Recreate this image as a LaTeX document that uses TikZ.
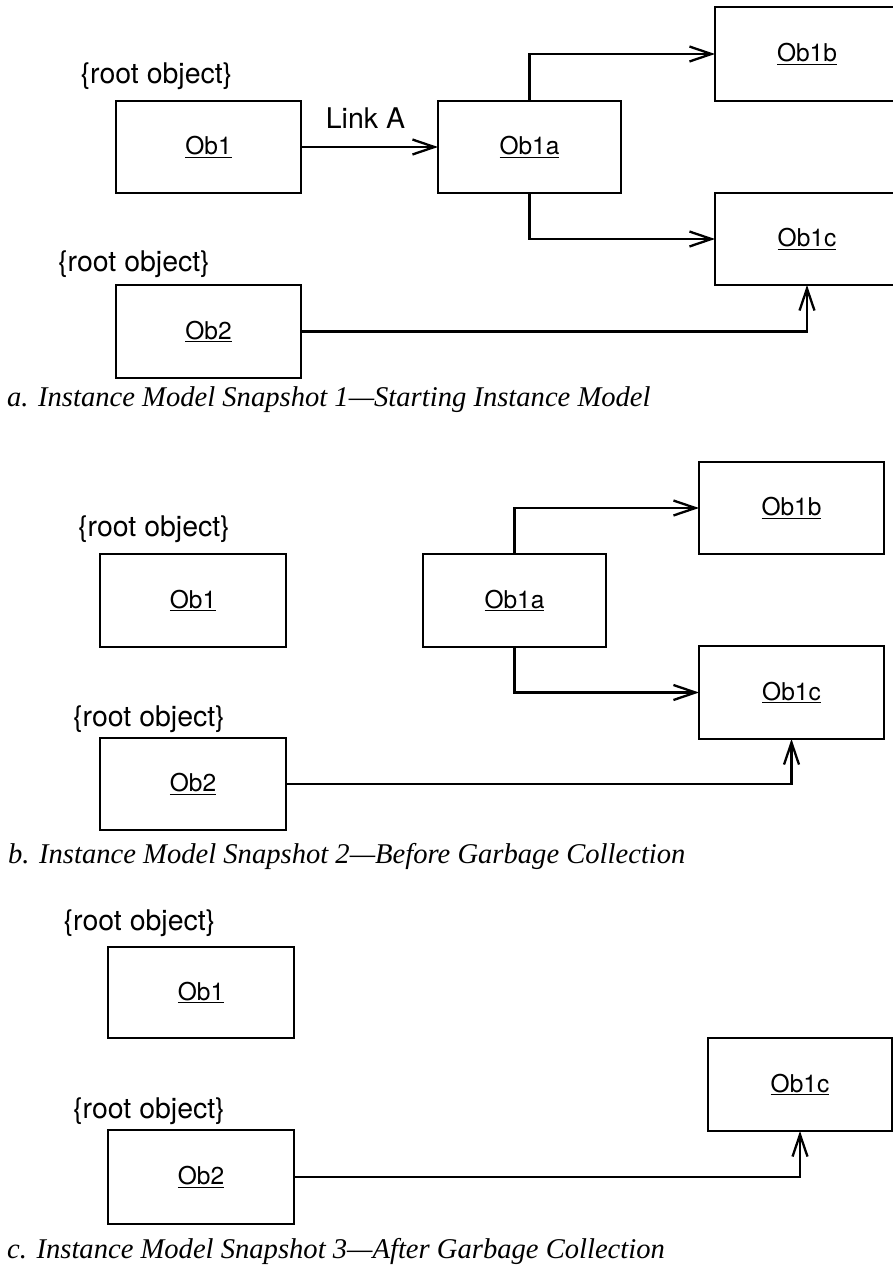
\documentclass[tikz,border=0pt]{standalone}
\usepackage{fontspec}
\setsansfont{TeX Gyre Heros}
\newfontfamily\captionserif[Ligatures=TeX]{Liberation Serif}
\usetikzlibrary{arrows.meta}

\tikzset{
  obj/.style={draw, line width=2.3pt, inner sep=0pt, outer sep=0pt,
    font=\sffamily\fontsize{24.5}{28}\selectfont},
  rootlbl/.style={inner sep=0pt, font=\sffamily\fontsize{28.5}{32}\selectfont},
  linklbl/.style={inner sep=0pt, font=\sffamily\fontsize{28.5}{32}\selectfont},
  caption/.style={inner sep=0pt, anchor=base west,
    font=\captionserif\itshape\fontsize{28.6}{34}\selectfont},
  arr/.style={line width=2.3pt, -{Straight Barb[length=22pt,width=15pt]}}
}

\begin{document}
\begin{tikzpicture}[x=1pt,y=-1pt]
\useasboundingbox (0,0) rectangle (893,1269);
\fill[white] (0,0) rectangle (893,1269);

% --- a. starting instance model ---
\node[rootlbl] (ra1) at (156.5,76) {\{root object\}};
\node[obj, minimum width=185pt, minimum height=92pt] (a1) at (208.5,147) {\underline{Ob1}};
\node[obj, minimum width=183pt, minimum height=92pt] (a1a) at (529.5,147) {\underline{Ob1a}};
\node[obj, minimum width=184pt, minimum height=94pt] (a1b) at (807,54) {\underline{Ob1b}};
\node[obj, minimum width=184pt, minimum height=92pt] (a1c) at (807,239) {\underline{Ob1c}};
\node[rootlbl] (ra2) at (134,264) {\{root object\}};
\node[obj, minimum width=185pt, minimum height=93pt] (a2) at (208.5,331.5) {\underline{Ob2}};
\draw[arr] (a1) -- node[linklbl, midway, above=17pt, xshift=-4pt] (linka) {Link A} (a1a);
\draw[arr] (a1a.north) |- (a1b.west);
\draw[arr] (a1a.south) |- (a1c.west);
\draw[arr] (a2.east) -| (a1c.south);
\node[caption] (capa) at (7,406) {a. Instance Model Snapshot 1---Starting Instance Model};

% --- b. before garbage collection ---
\node[rootlbl] (rb1) at (154,529) {\{root object\}};
\node[obj, minimum width=186pt, minimum height=93pt] (b1) at (193,600.5) {\underline{Ob1}};
\node[obj, minimum width=183pt, minimum height=93pt] (b1a) at (514.5,600.5) {\underline{Ob1a}};
\node[obj, minimum width=185pt, minimum height=92pt] (b1b) at (791.5,508) {\underline{Ob1b}};
\node[obj, minimum width=185pt, minimum height=93pt] (b1c) at (791.5,692.5) {\underline{Ob1c}};
\node[rootlbl] (rb2) at (149,719) {\{root object\}};
\node[obj, minimum width=186pt, minimum height=92pt] (b2) at (193,784) {\underline{Ob2}};
\draw[arr] (b1a.north) |- (b1b.west);
\draw[arr] (b1a.south) |- (b1c.west);
\draw[arr] (b2.east) -| (b1c.south);
\node[caption] (capb) at (8,863) {b. Instance Model Snapshot 2---Before Garbage Collection};

% --- c. after garbage collection ---
\node[rootlbl] (rc1) at (139.5,923) {\{root object\}};
\node[obj, minimum width=186pt, minimum height=91pt] (c1) at (201,992.5) {\underline{Ob1}};
\node[rootlbl] (rc2) at (149,1111) {\{root object\}};
\node[obj, minimum width=186pt, minimum height=94pt] (c2) at (201,1177) {\underline{Ob2}};
\node[obj, minimum width=184pt, minimum height=93pt] (c1c) at (800,1084.5) {\underline{Ob1c}};
\draw[arr] (c2.east) -| (c1c.south);
\node[caption] (capc) at (7,1258) {c. Instance Model Snapshot 3---After Garbage Collection};
\end{tikzpicture}
\end{document}
